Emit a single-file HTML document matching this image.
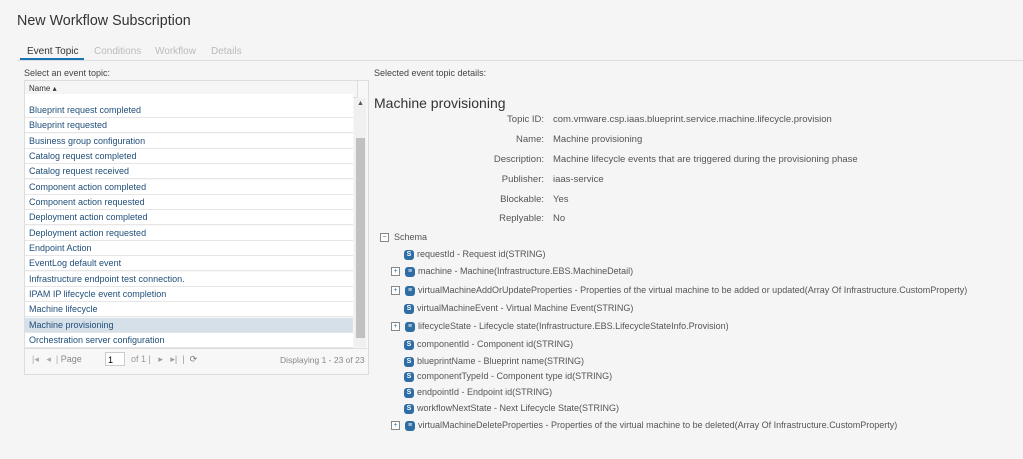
<!DOCTYPE html>
<html><head><style>
body{margin:0;width:1023px;height:459px;background:#f5f5f5;font-family:"Liberation Sans",sans-serif;position:relative;overflow:hidden}
.a{position:absolute;white-space:nowrap}
h1{position:absolute;left:17px;top:13px;margin:0;font-weight:normal;font-size:14.3px;color:#333}
.tab{position:absolute;top:46px;font-size:10px;color:#bbb}
.row{position:absolute;left:25px;width:328px;height:15px;border-bottom:1px solid #e6e6e6;background:#fff;font-size:9px;color:#1f4e79;line-height:15px;padding-left:4px;box-sizing:border-box}
.lab{position:absolute;width:170px;left:374px;text-align:right;font-size:9.5px;color:#555}
.val{position:absolute;left:553px;font-size:9.5px;color:#555}
.it{position:absolute;font-size:9px;color:#555;white-space:nowrap}
.ic{display:inline-block;width:10px;height:10px;border-radius:3px;background:#2f6ea5;color:#fff;font-size:7px;line-height:10px;text-align:center;vertical-align:middle;margin-right:3px;font-weight:bold}
.pl{display:inline-block;width:7px;height:7px;border:1px solid #888;font-size:7px;line-height:7px;text-align:center;color:#2f6ea5;vertical-align:middle;margin-right:5px;background:#fff}
</style></head><body>
<h1>New Workflow Subscription</h1>
<div class="tab" style="left:27px;color:#333">Event Topic</div>
<div class="tab" style="left:94px">Conditions</div>
<div class="tab" style="left:155px">Workflow</div>
<div class="tab" style="left:211px">Details</div>
<div class="a" style="left:20px;top:58px;width:64px;height:2px;background:#1a73b5"></div>
<div class="a" style="left:17px;top:60px;width:1006px;height:1px;background:#ddd"></div>
<div class="a" style="left:24px;top:68px;font-size:9px;color:#444">Select an event topic:</div>
<div class="a" style="left:374px;top:68px;font-size:9px;color:#444">Selected event topic details:</div>
<div class="a" style="left:24px;top:80px;width:343px;height:293px;border:1px solid #ddd;background:#f7f7f7"></div>
<div class="a" style="left:25px;top:81px;width:328px;height:16px;background:#f5f5f5;border-bottom:1px solid #ddd;border-right:1px solid #ddd;font-size:8px;color:#333;line-height:16px;padding-left:4px">Name ▴</div>
<div class="a" style="left:354px;top:98px;width:12px;height:249px;background:#f0f0f0"></div>
<div class="a" style="left:356px;top:138px;width:9px;height:200px;background:#c1c1c1"></div>
<div class="a" style="left:357px;top:100px;font-size:7px;color:#555">▲</div>
<div class="row" style="top:94px;height:10px"></div>
<div class="row" style="top:103px">Blueprint request completed</div>
<div class="row" style="top:118px">Blueprint requested</div>
<div class="row" style="top:134px">Business group configuration</div>
<div class="row" style="top:149px">Catalog request completed</div>
<div class="row" style="top:164px">Catalog request received</div>
<div class="row" style="top:180px">Component action completed</div>
<div class="row" style="top:195px">Component action requested</div>
<div class="row" style="top:210px">Deployment action completed</div>
<div class="row" style="top:226px">Deployment action requested</div>
<div class="row" style="top:241px">Endpoint Action</div>
<div class="row" style="top:256px">EventLog default event</div>
<div class="row" style="top:272px">Infrastructure endpoint test connection.</div>
<div class="row" style="top:287px">IPAM IP lifecycle event completion</div>
<div class="row" style="top:302px">Machine lifecycle</div>
<div class="row" style="top:318px;background:#d6e0e8">Machine provisioning</div>
<div class="row" style="top:333px">Orchestration server configuration</div>
<div class="a" style="left:25px;top:348px;width:342px;height:1px;background:#ddd"></div>
<div class="a" style="left:32px;top:354px;font-size:9px;color:#aaa">|◂ &nbsp; ◂ &nbsp;| <span style="color:#888">Page</span></div>
<div class="a" style="left:105px;top:352px;width:20px;height:14px;border:1px solid #ccc;background:#fff;font-size:9px;line-height:14px;padding-left:2px;box-sizing:border-box">1</div>
<div class="a" style="left:131px;top:354px;font-size:9px;color:#999">of 1 | &nbsp; ▸ &nbsp; ▸| &nbsp;| &nbsp;<span style="color:#777">⟳</span></div>
<div class="a" style="left:280px;top:355px;font-size:8.5px;color:#888">Displaying 1 - 23 of 23</div>
<div class="a" style="left:374px;top:95px;font-size:14px;color:#333">Machine provisioning</div>
<div class="lab" style="top:114px">Topic ID:</div><div class="val" style="top:114px">com.vmware.csp.iaas.blueprint.service.machine.lifecycle.provision</div>
<div class="lab" style="top:134px">Name:</div><div class="val" style="top:134px">Machine provisioning</div>
<div class="lab" style="top:154px">Description:</div><div class="val" style="top:154px">Machine lifecycle events that are triggered during the provisioning phase</div>
<div class="lab" style="top:174px">Publisher:</div><div class="val" style="top:174px">iaas-service</div>
<div class="lab" style="top:194px">Blockable:</div><div class="val" style="top:194px">Yes</div>
<div class="lab" style="top:213px">Replyable:</div><div class="val" style="top:213px">No</div>
<div class="it" style="left:380px;top:232px"><span class="pl">−</span>Schema</div>
<div class="it" style="left:404px;top:249px"><span class="ic">S</span>requestId - Request id(STRING)</div>
<div class="it" style="left:391px;top:266px"><span class="pl">+</span><span class="ic">≡</span>machine - Machine(Infrastructure.EBS.MachineDetail)</div>
<div class="it" style="left:391px;top:285px"><span class="pl">+</span><span class="ic">≡</span>virtualMachineAddOrUpdateProperties - Properties of the virtual machine to be added or updated(Array Of Infrastructure.CustomProperty)</div>
<div class="it" style="left:404px;top:303px"><span class="ic">S</span>virtualMachineEvent - Virtual Machine Event(STRING)</div>
<div class="it" style="left:391px;top:321px"><span class="pl">+</span><span class="ic">≡</span>lifecycleState - Lifecycle state(Infrastructure.EBS.LifecycleStateInfo.Provision)</div>
<div class="it" style="left:404px;top:339px"><span class="ic">S</span>componentId - Component id(STRING)</div>
<div class="it" style="left:404px;top:356px"><span class="ic">S</span>blueprintName - Blueprint name(STRING)</div>
<div class="it" style="left:404px;top:371px"><span class="ic">S</span>componentTypeId - Component type id(STRING)</div>
<div class="it" style="left:404px;top:387px"><span class="ic">S</span>endpointId - Endpoint id(STRING)</div>
<div class="it" style="left:404px;top:403px"><span class="ic">S</span>workflowNextState - Next Lifecycle State(STRING)</div>
<div class="it" style="left:391px;top:420px"><span class="pl">+</span><span class="ic">≡</span>virtualMachineDeleteProperties - Properties of the virtual machine to be deleted(Array Of Infrastructure.CustomProperty)</div>
</body></html>
